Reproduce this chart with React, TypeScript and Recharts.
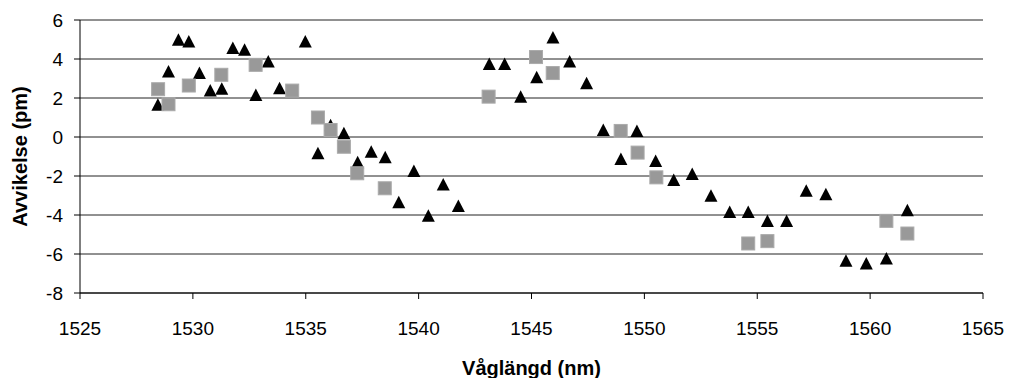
import { CartesianGrid, Scatter, ScatterChart, XAxis, YAxis } from 'recharts'

// series 1 (black triangles)
const triX = [
  1528.45, 1528.92, 1529.36, 1529.82, 1530.29, 1530.77, 1531.28, 1531.77, 1532.29, 1532.79, 1533.34, 1533.84,
  1534.98, 1535.54, 1536.1, 1536.69, 1537.3, 1537.9, 1538.52, 1539.12, 1539.79, 1540.43, 1541.09, 1541.76,
  1543.13, 1543.81, 1544.52, 1545.23, 1545.95, 1546.69, 1547.44, 1548.18, 1548.96, 1549.67, 1550.5, 1551.3,
  1552.12, 1552.95, 1553.78, 1554.6, 1555.45, 1556.3, 1557.17, 1558.04, 1558.93, 1559.83, 1560.72, 1561.65,
]
const triY = [
  1.65, 3.36, 4.99, 4.9, 3.28, 2.38, 2.47, 4.56, 4.47, 2.16, 3.87, 2.5,
  4.9, -0.83, 0.6, 0.19, -1.3, -0.75, -1.04, -3.35, -1.74, -4.04, -2.43, -3.54,
  3.74, 3.74, 2.07, 3.07, 5.1, 3.87, 2.76, 0.36, -1.13, 0.31, -1.23, -2.2,
  -1.9, -3.01, -3.84, -3.84, -4.31, -4.31, -2.76, -2.94, -6.35, -6.49, -6.23, -3.75,
]

// series 2 (grey squares)
const sqX = [
  1528.46, 1528.92, 1529.82, 1531.26, 1532.78, 1534.4, 1535.54, 1536.1, 1536.69, 1537.28, 1538.5,
  1543.1, 1545.2, 1545.94, 1548.95, 1549.7, 1550.53, 1554.6, 1555.45, 1560.72, 1561.65,
]
const sqY = [
  2.45, 1.68, 2.64, 3.19, 3.7, 2.38, 1.0, 0.36, -0.5, -1.86, -2.63,
  2.07, 4.1, 3.28, 0.31, -0.8, -2.07, -5.46, -5.34, -4.3, -4.95,
]

const xTicks = [1525, 1530, 1535, 1540, 1545, 1550, 1555, 1560, 1565]
const yTicks = [-8, -6, -4, -2, 0, 2, 4, 6]

const triData = triX.map((x, i) => ({ x, y: triY[i] }))
const sqData = sqX.map((x, i) => ({ x, y: sqY[i] }))

const font = '"Liberation Sans", Arial, sans-serif'

const Triangle = (props: any) => {
  const { cx, cy } = props
  return <polygon points={`${cx},${cy - 6.5} ${cx - 6.5},${cy + 6} ${cx + 6.5},${cy + 6}`} fill="#000" />
}

const Square = (props: any) => {
  const { cx, cy } = props
  return <rect x={cx - 6.5} y={cy - 6.5} width={13} height={13} fill="#999" stroke="#aaa" strokeWidth={1} />
}

export default function App() {
  return (
    <div style={{ position: 'absolute', left: 0, top: 0, background: '#fff' }}>
      <ScatterChart width={1009} height={378} margin={{ top: 20, right: 26, bottom: 0, left: 0 }}>
        <CartesianGrid vertical={false} stroke="#222" strokeWidth={1} />
        <XAxis
          type="number"
          dataKey="x"
          domain={[1525, 1565]}
          ticks={xTicks}
          height={85}
          tickSize={6}
          tickMargin={23}
          stroke="#000"
          tick={{ fill: '#000', fontSize: 19, fontFamily: font }}
          label={{
            value: 'Våglängd (nm)',
            position: 'insideBottom',
            offset: 3,
            style: { fontSize: 20, fontWeight: 'bold', fontFamily: font, fill: '#000' },
          }}
        />
        <YAxis
          type="number"
          dataKey="y"
          domain={[-8, 6]}
          ticks={yTicks}
          width={80}
          tickSize={6}
          tickMargin={11}
          stroke="#000"
          tick={{ fill: '#000', fontSize: 19, fontFamily: font }}
          label={{
            value: 'Avvikelse (pm)',
            angle: -90,
            position: 'insideLeft',
            offset: 20,
            style: { fontSize: 20, fontWeight: 'bold', fontFamily: font, fill: '#000', textAnchor: 'middle' },
          }}
        />
        <Scatter data={triData} shape={Triangle} isAnimationActive={false} />
        <Scatter data={sqData} shape={Square} isAnimationActive={false} />
      </ScatterChart>
    </div>
  )
}
